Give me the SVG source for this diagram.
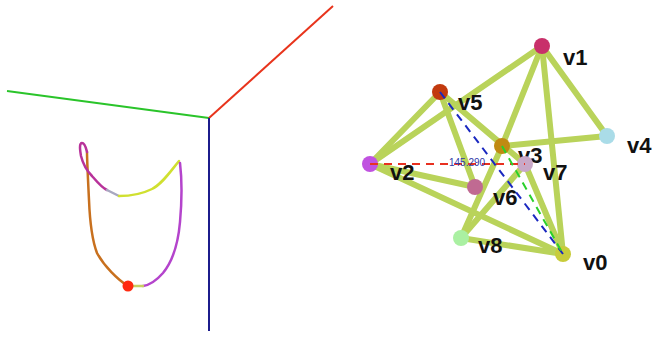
<svg xmlns="http://www.w3.org/2000/svg" width="652" height="337" viewBox="0 0 652 337">
<style>
.ax{stroke-width:2;fill:none}
.cv{fill:none;stroke-width:2.5;stroke-linecap:round;stroke-linejoin:round}
.e{stroke:#b9d35a;stroke-width:6;stroke-linecap:round}
.d{stroke-width:2;stroke-dasharray:8,6;fill:none}
.lbl{font-family:"Liberation Sans",Arial,sans-serif;font-weight:bold;font-size:22px;fill:#111}
</style>
<rect width="652" height="337" fill="#fff"/>
<g id="axes">
<line class="ax" x1="7" y1="91" x2="209" y2="118" stroke="#2ac42a"/>
<line class="ax" x1="209" y1="118" x2="333" y2="6" stroke="#e8341c"/>
<line class="ax" x1="209" y1="118" x2="209" y2="331" stroke="#1c1c8c"/>
</g>
<g id="curve">
<path class="cv" stroke="#c8701e" d="M128,286 C118,280 104,266 97,253 C92,240 90,225 89,200 C88,180 87,160 87,152"/>
<path class="cv" stroke="#b8329a" d="M87,152 C86,148 85,143 82,143 C79,143 80,150 81,156 C83,164 86,170 92,176 C98,183 102,188 107,190"/>
<path class="cv" stroke="#a8a8c0" d="M107,190 L119,196"/>
<path class="cv" stroke="#d0e030" d="M119,196 C130,196 142,194 152,189 C162,184 170,172 179,161"/>
<path class="cv" stroke="#b444cc" d="M180,163 C182,180 182,200 180,222 C178,245 172,262 163,273 C156,281 150,285 143,286"/>
<path class="cv" stroke="#c8d060" d="M143,286 L132,286"/>
<circle cx="128" cy="286" r="5.5" fill="#ff2a10"/>
</g>
<g id="edges">
<line class="e" x1="370" y1="164" x2="440" y2="92"/>
<line class="e" x1="370" y1="164" x2="542" y2="46"/>
<line class="e" x1="370" y1="164" x2="475" y2="187"/>
<line class="e" x1="370" y1="164" x2="563" y2="254"/>
<line class="e" x1="440" y1="92" x2="475" y2="187"/>
<line class="e" x1="440" y1="92" x2="525" y2="164"/>
<line class="e" x1="502" y1="146" x2="542" y2="46"/>
<line class="e" x1="502" y1="146" x2="607" y2="136"/>
<line class="e" x1="502" y1="146" x2="461" y2="238"/>
<line class="e" x1="542" y1="46" x2="607" y2="136"/>
<line class="e" x1="542" y1="46" x2="563" y2="254"/>
<line class="e" x1="525" y1="164" x2="461" y2="238"/>
<line class="e" x1="525" y1="164" x2="563" y2="254"/>
<line class="e" x1="461" y1="238" x2="563" y2="254"/>
</g>
<g id="v0"><circle cx="563" cy="254" r="8" fill="#c8cc3a"/><text class="lbl" x="583" y="270">v0</text></g>
<g id="v1"><circle cx="542" cy="46" r="8" fill="#c8306a"/><text class="lbl" x="563" y="65">v1</text></g>
<g id="v2"><circle cx="370" cy="164" r="8" fill="#c052e0"/><text class="lbl" x="390" y="180">v2</text></g>
<g id="v3"><circle cx="502" cy="146" r="8" fill="#c08a12"/><text class="lbl" x="518" y="163">v3</text></g>
<g id="v4"><circle cx="607" cy="136" r="8" fill="#aadce8"/><text class="lbl" x="627" y="153">v4</text></g>
<g id="v5"><circle cx="440" cy="92" r="8" fill="#c23a0e"/><text class="lbl" x="458" y="110">v5</text></g>
<g id="v6"><circle cx="475" cy="187" r="8" fill="#c06a92"/><text class="lbl" x="493" y="205">v6</text></g>
<g id="v7"><circle cx="525" cy="164" r="8" fill="#c8a8c8"/><text class="lbl" x="543" y="180">v7</text></g>
<g id="v8"><circle cx="461" cy="238" r="8" fill="#aaf0a2"/><text class="lbl" x="478" y="253">v8</text></g>
<g id="measure">
<line class="d" x1="370" y1="164" x2="525" y2="164" stroke="#e83020"/>
<line class="d" x1="440" y1="92" x2="563" y2="254" stroke="#1a28c0"/>
<line class="d" x1="502" y1="146" x2="563" y2="254" stroke="#2ad02a"/>
<text x="449" y="166" font-family="Liberation Sans,Arial,sans-serif" font-size="10" fill="#3038a8">145.290</text>
</g>
</svg>
